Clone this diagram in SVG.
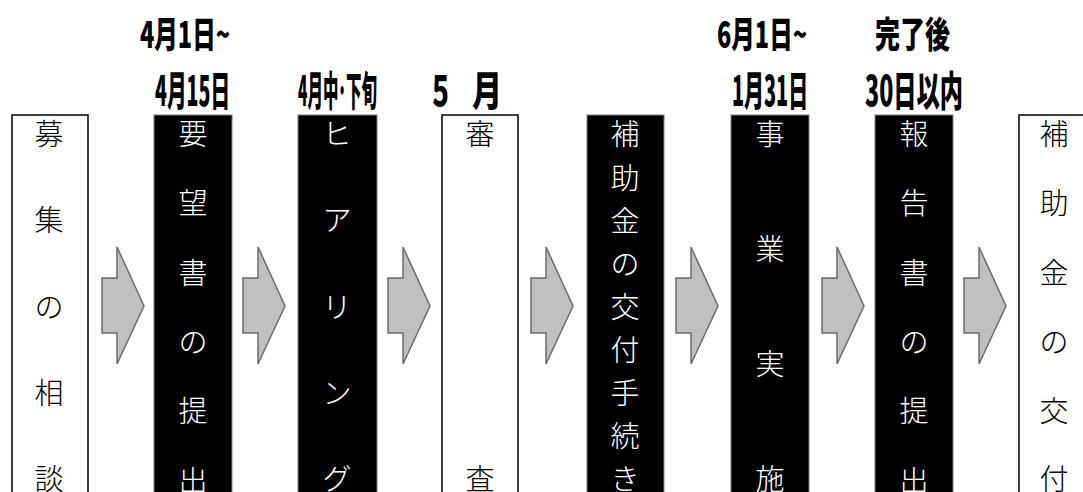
<svg xmlns="http://www.w3.org/2000/svg" width="1083" height="492" viewBox="0 0 1083 492">
<style>
.wbox{fill:#ffffff;stroke:#000000;stroke-width:1.5}
.bbox{fill:#000000;stroke:#7f7f7f;stroke-width:1}
.vt{font-family:"Noto Sans CJK JP","Noto Sans CJK SC",sans-serif;font-size:29px;font-weight:300;text-anchor:middle}
.wt{fill:#000000}
.bt{fill:#ffffff}
.lab{font-family:"Noto Sans CJK JP","Noto Sans CJK SC",sans-serif;font-weight:900;fill:#000000}
.l1{font-size:36px}
.l2{font-size:41px}
.arr{fill:#bfbfbf;stroke:#6b6b6b;stroke-width:1.5;stroke-linejoin:miter}
</style>
<defs>
<polygon id="arrow" class="arr" points="0,278 15,278 15,247 42,306 15,364 15,333 0,333"/>
</defs>
<rect width="1083" height="492" fill="#ffffff"/>

<g id="labels">
<text class="lab l1" x="140" y="48" textLength="90" lengthAdjust="spacingAndGlyphs">4月1日~</text>
<text class="lab l2" x="155" y="106" textLength="75" lengthAdjust="spacingAndGlyphs">4月15日</text>
<text class="lab l2" x="298" y="106" textLength="79" lengthAdjust="spacingAndGlyphs">4月中･下旬</text>
<text class="lab l2" x="428" y="106" textLength="25" lengthAdjust="spacingAndGlyphs">５</text>
<text class="lab l2" x="472" y="106" textLength="30" lengthAdjust="spacingAndGlyphs">月</text>
<text class="lab l1" x="717" y="48" textLength="90" lengthAdjust="spacingAndGlyphs">6月1日~</text>
<text class="lab l2" x="732" y="106" textLength="76" lengthAdjust="spacingAndGlyphs">1月31日</text>
<text class="lab l1" x="875" y="48" textLength="75" lengthAdjust="spacingAndGlyphs">完了後</text>
<text class="lab l2" x="865" y="106" textLength="98" lengthAdjust="spacingAndGlyphs">30日以内</text>
</g>

<g id="node1">
<rect class="wbox" x="12" y="115" width="76" height="400"/>
<text class="vt wt" x="49" y="145">募</text>
<text class="vt wt" x="49" y="231">集</text>
<text class="vt wt" x="49" y="318">の</text>
<text class="vt wt" x="49" y="404">相</text>
<text class="vt wt" x="49" y="490">談</text>
</g>

<g id="node2">
<rect class="bbox" x="154" y="115" width="78" height="400"/>
<text class="vt bt" x="193" y="145">要</text>
<text class="vt bt" x="193" y="214">望</text>
<text class="vt bt" x="193" y="284">書</text>
<text class="vt bt" x="193" y="353">の</text>
<text class="vt bt" x="193" y="422">提</text>
<text class="vt bt" x="193" y="492">出</text>
</g>

<g id="node3">
<rect class="bbox" x="298" y="115" width="79" height="400"/>
<text class="vt bt" x="337" y="145">ヒ</text>
<text class="vt bt" x="337" y="231">ア</text>
<text class="vt bt" x="337" y="318">リ</text>
<text class="vt bt" x="337" y="404">ン</text>
<text class="vt bt" x="337" y="490">グ</text>
</g>

<g id="node4">
<rect class="wbox" x="442" y="115" width="76" height="400"/>
<text class="vt wt" x="480" y="145">審</text>
<text class="vt wt" x="480" y="490">査</text>
</g>

<g id="node5">
<rect class="bbox" x="587" y="115" width="77" height="400"/>
<text class="vt bt" x="625" y="145">補</text>
<text class="vt bt" x="625" y="189">助</text>
<text class="vt bt" x="625" y="232">金</text>
<text class="vt bt" x="625" y="275">の</text>
<text class="vt bt" x="625" y="318">交</text>
<text class="vt bt" x="625" y="361">付</text>
<text class="vt bt" x="625" y="404">手</text>
<text class="vt bt" x="625" y="447">続</text>
<text class="vt bt" x="625" y="490">き</text>
</g>

<g id="node6">
<rect class="bbox" x="731" y="115" width="78" height="400"/>
<text class="vt bt" x="770" y="145">事</text>
<text class="vt bt" x="770" y="260">業</text>
<text class="vt bt" x="770" y="375">実</text>
<text class="vt bt" x="770" y="490">施</text>
</g>

<g id="node7">
<rect class="bbox" x="875" y="115" width="78" height="400"/>
<text class="vt bt" x="914" y="145">報</text>
<text class="vt bt" x="914" y="214">告</text>
<text class="vt bt" x="914" y="284">書</text>
<text class="vt bt" x="914" y="353">の</text>
<text class="vt bt" x="914" y="422">提</text>
<text class="vt bt" x="914" y="492">出</text>
</g>

<g id="node8">
<rect class="wbox" x="1019" y="115" width="78" height="400"/>
<text class="vt wt" x="1054" y="145">補</text>
<text class="vt wt" x="1054" y="214">助</text>
<text class="vt wt" x="1054" y="284">金</text>
<text class="vt wt" x="1054" y="353">の</text>
<text class="vt wt" x="1054" y="422">交</text>
<text class="vt wt" x="1054" y="490">付</text>
</g>

<g id="connectors">
<use href="#arrow" x="102"/>
<use href="#arrow" x="243"/>
<use href="#arrow" x="388"/>
<use href="#arrow" x="531"/>
<use href="#arrow" x="676"/>
<use href="#arrow" x="822"/>
<use href="#arrow" x="964"/>
</g>
</svg>
